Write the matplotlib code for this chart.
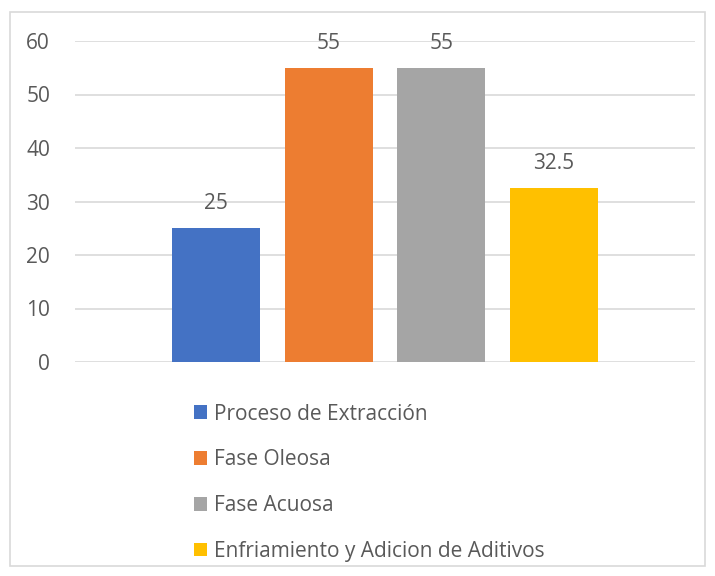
import matplotlib
matplotlib.use("Agg")
import matplotlib.pyplot as plt
from matplotlib.patches import Patch, Rectangle

series = ["Proceso de Extracción", "Fase Oleosa", "Fase Acuosa", "Enfriamiento y Adicion de Aditivos"]
values = [25, 55, 55, 32.5]
labels = ["25", "55", "55", "32.5"]
colors = ["#4472C4", "#ED7D31", "#A5A5A5", "#FFC000"]
yticks = [0, 10, 20, 30, 40, 50, 60]

plt.rcParams['font.family'] = ['Open Sans', 'DejaVu Sans']
txt = "#595959"
fs = 15
W, H = 715, 576
fig = plt.figure(figsize=(W/100, H/100), dpi=100)
fig.patches.append(Rectangle((10/W, 1-566/H), 695/W, 554/H, transform=fig.transFigure,
                             fill=False, edgecolor="#D9D9D9", linewidth=1.2))

ax = fig.add_axes([75/W, 1-362/H, 620/W, 321/H])
x = list(range(len(values)))
ax.bar(x, values, width=0.78, color=colors, zorder=3)
for xi, v, l in zip(x, values, labels):
    ax.annotate(l, (xi, v), xytext=(0, 10), textcoords="offset points",
                ha="center", va="bottom", fontsize=fs, color=txt)
ax.set_xlim(-1.253, 4.253)
ax.set_ylim(0, 60)
ax.set_yticks(yticks)
ax.set_yticklabels([str(t) for t in yticks], fontsize=fs, color=txt)
ax.set_xticks([])
ax.tick_params(axis='y', length=0, pad=18)
ax.grid(axis='y', color="#D9D9D9", linewidth=1.2, zorder=0)
for s in ax.spines.values():
    s.set_visible(False)

handles = [Patch(facecolor=c, edgecolor='none') for c in colors]
leg = fig.legend(handles, series, loc="upper left", bbox_to_anchor=(194/W, 1-403.5/H),
                 frameon=False, fontsize=fs, labelspacing=1.19, handlelength=0.62,
                 handleheight=0.62, handletextpad=0.32, borderaxespad=0, borderpad=0)
for t in leg.get_texts():
    t.set_color(txt)

fig.savefig("out.png", dpi=100)
